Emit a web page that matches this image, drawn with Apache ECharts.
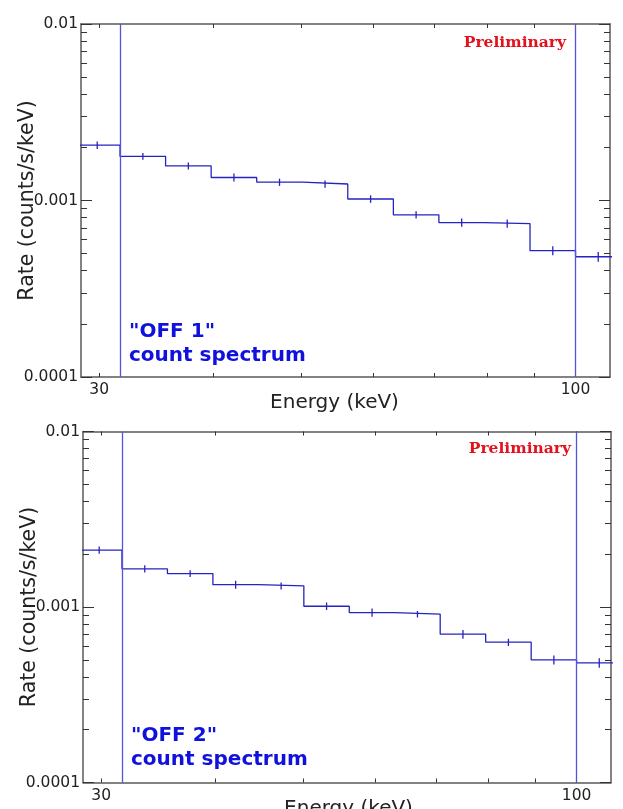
<!DOCTYPE html>
<html>
<head>
<meta charset="utf-8">
<script src="https://cdn.jsdelivr.net/npm/echarts@6/dist/echarts.min.js"></script>
<style>
  html, body { margin: 0; padding: 0; background: #fff; }
  #chart { width: 623px; height: 809px; }
</style>
</head>
<body>
<div id="chart"></div>
<script>
// energy bins (keV), log-spaced
const binEdges = [28.18, 31.62, 35.48, 39.81, 44.67, 50.12, 56.23, 63.10, 70.79, 79.43, 89.13, 100.0, 112.2]
const binCenters = [29.85, 33.50, 37.58, 42.17, 47.32, 53.09, 59.57, 66.83, 74.99, 84.14, 94.41, 105.9]

// count rate (counts/s/keV) and errors
const off1Rate = [0.00206, 0.00178, 0.00157, 0.00135, 0.00127, 0.00124, 0.00102, 0.00083, 0.00075, 0.00074, 0.00052, 0.00048]
const off1Err = [0.00010, 0.00008, 0.00007, 0.00007, 0.00006, 0.00006, 0.00005, 0.00004, 0.00004, 0.00004, 0.00003, 0.00003]
const off2Rate = [0.00211, 0.00165, 0.00155, 0.00134, 0.00132, 0.00101, 0.00093, 0.00091, 0.00070, 0.00063, 0.00050, 0.00048]
const off2Err = [0.00010, 0.00008, 0.00007, 0.00007, 0.00006, 0.00005, 0.00005, 0.00004, 0.00004, 0.00003, 0.00003, 0.00003]

// energy range limits drawn as vertical lines
const rangeMarks = [31.62, 100]

// axis ticks
const xTicks = [30, 40, 50, 60, 70, 80, 90, 100]
const xLabels = [30, 100]
const yMajor = [0.0001, 0.001, 0.01]
const yMinor = [0.0002, 0.0003, 0.0004, 0.0005, 0.0006, 0.0007, 0.0008, 0.0009,
  0.002, 0.003, 0.004, 0.005, 0.006, 0.007, 0.008, 0.009]

const STEP = '#2424c2'
const MARK = '#5454dc'
const AXIS = '#5a5a5a'
const FONT = 'DejaVu Sans'

const panels = [
  { grid: { left: 81, top: 24, width: 529, height: 353 }, rate: off1Rate, err: off1Err, xNamePad: [0, 22, 0, 0], tag: '"OFF 1"', tagY: 331.5, prelim: [566, 43] },
  { grid: { left: 83, top: 431.5, width: 528, height: 351 }, rate: off2Rate, err: off2Err, xNamePad: [0, 0, 0, 3], tag: '"OFF 2"', tagY: 735.5, prelim: [571, 449] }
]

const grids = []
const xAxes = []
const yAxes = []
const series = []
const graphics = []

const yFmt = v => Number(v).toPrecision(1)

panels.forEach((p, gi) => {
  grids.push(Object.assign({ containLabel: false, outerBoundsMode: 'none' }, p.grid))
  const xBase = {
    type: 'log', logBase: 10, gridIndex: gi, min: 28.65, max: 109.1,
    splitLine: { show: false },
    axisLine: { show: true, lineStyle: { color: AXIS, width: 1.5 } },
    axisTick: { show: true, inside: true, length: 4, customValues: xTicks, lineStyle: { color: '#333' } }
  }
  xAxes.push(Object.assign({}, xBase, {
    position: 'bottom',
    axisLabel: { customValues: xLabels, formatter: v => String(Math.round(v)), color: '#222', fontFamily: FONT, fontSize: 15.5, margin: 5 },
    name: 'Energy (keV)', nameLocation: 'middle', nameGap: 16, nameMoveOverlap: false,
    nameTextStyle: { color: '#222', fontFamily: FONT, fontSize: 20, padding: p.xNamePad }
  }))
  xAxes.push(Object.assign({}, xBase, { position: 'top', axisLabel: { show: false } }))

  const yBase = {
    type: 'log', logBase: 10, gridIndex: gi, min: 0.0001, max: 0.01,
    splitLine: { show: false },
    axisLine: { show: false },
    axisLabel: { show: false }
  }
  const tick = (vals, len) => ({ show: true, inside: true, length: len, customValues: vals, lineStyle: { color: '#333' } })
  yAxes.push(Object.assign({}, yBase, {
    position: 'left',
    axisLine: { show: true, lineStyle: { color: AXIS, width: 1.5 } },
    axisTick: tick(yMinor, 6),
    axisLabel: { show: true, customValues: yMajor, formatter: yFmt, color: '#222', fontFamily: FONT, fontSize: 15.5, margin: 3, padding: [0, 0, 6, 0] },
    name: 'Rate (counts/s/keV)', nameLocation: 'middle', nameGap: 43, nameMoveOverlap: false,
    nameTextStyle: { color: '#222', fontFamily: FONT, fontSize: 20.5 }
  }))
  yAxes.push(Object.assign({}, yBase, { position: 'left', axisTick: tick(yMajor, 11) }))
  yAxes.push(Object.assign({}, yBase, {
    position: 'right',
    axisLine: { show: true, lineStyle: { color: AXIS, width: 1.5 } },
    axisTick: tick(yMinor, 6)
  }))
  yAxes.push(Object.assign({}, yBase, { position: 'right', axisTick: tick(yMajor, 11) }))

  const xi = gi * 2
  const yi = gi * 4

  // histogram outline: each bin contributes its two edges
  const stepData = []
  p.rate.forEach((v, i) => {
    stepData.push([binEdges[i], v], [binEdges[i + 1], v])
  })
  series.push({
    type: 'line', xAxisIndex: xi, yAxisIndex: yi,
    data: stepData, showSymbol: false, symbol: 'none', clip: true,
    lineStyle: { color: STEP, width: 1.3 },
    animation: false, silent: true,
    markLine: {
      symbol: 'none', silent: true, animation: false,
      label: { show: false },
      lineStyle: { color: MARK, width: 1.3, type: 'solid' },
      data: rangeMarks.map(x => ({ xAxis: x }))
    }
  })

  series.push({
    type: 'custom', xAxisIndex: xi, yAxisIndex: yi, clip: true, silent: true, animation: false,
    data: p.rate.map((v, i) => [binCenters[i], v - p.err[i], v + p.err[i]]),
    encode: { x: 0, y: [1, 2] },
    renderItem: (params, api) => {
      const a = api.coord([api.value(0), api.value(1)])
      const b = api.coord([api.value(0), api.value(2)])
      return { type: 'line', shape: { x1: a[0], y1: a[1], x2: b[0], y2: b[1] }, style: { stroke: STEP, lineWidth: 1.3 } }
    }
  })

  graphics.push({
    type: 'text', x: p.prelim[0], y: p.prelim[1],
    style: { text: 'Preliminary', fill: '#e3111c', font: 'bold 15.5px "DejaVu Serif"', textAlign: 'right', textVerticalAlign: 'middle' }
  })
  graphics.push({
    type: 'text', x: p.grid.left + 48, y: p.tagY,
    style: { text: p.tag, fill: '#1111dd', font: 'bold 20px "DejaVu Sans"', textAlign: 'left', textVerticalAlign: 'middle' }
  })
  graphics.push({
    type: 'text', x: p.grid.left + 48, y: p.tagY + 24,
    style: { text: 'count spectrum', fill: '#1111dd', font: 'bold 20px "DejaVu Sans"', textAlign: 'left', textVerticalAlign: 'middle' }
  })
})

const chart = echarts.init(document.getElementById('chart'), null, { renderer: 'canvas' })
chart.setOption({
  backgroundColor: '#fff',
  animation: false,
  grid: grids,
  xAxis: xAxes,
  yAxis: yAxes,
  series: series,
  graphic: graphics
})
</script>
</body>
</html>
